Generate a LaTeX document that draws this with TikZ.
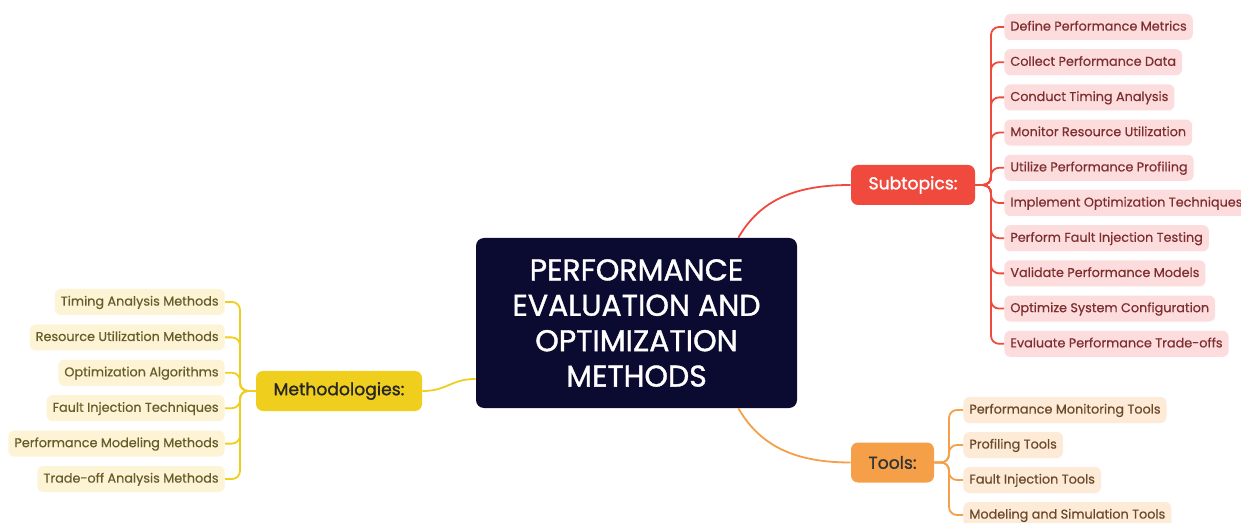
\documentclass[tikz,border=0pt]{standalone}
\usepackage{fontspec}
\setmainfont{Poppins}
\newfontfamily\medfont{Poppins}[FakeBold=1.2]
\newfontfamily\leaffont{Poppins}[FakeBold=0.5]
\usetikzlibrary{positioning}

\definecolor{navy}{HTML}{0B0A30}
\definecolor{subred}{HTML}{F04A3E}
\definecolor{subpink}{HTML}{FCDCDC}
\definecolor{subtext}{HTML}{7E2E2E}
\definecolor{methyel}{HTML}{F0CE1E}
\definecolor{methpale}{HTML}{FCF4D4}
\definecolor{methtext}{HTML}{665C2A}
\definecolor{toolor}{HTML}{F5A049}
\definecolor{toolpale}{HTML}{FDEBD8}
\definecolor{tooltext}{HTML}{6A4828}

\tikzset{
  root/.style={fill=navy, rounded corners=4pt, text=white, minimum width=160.5pt,
    minimum height=85pt, align=center, font=\medfont\fontsize{15pt}{17.7pt}\selectfont},
  branch/.style={rounded corners=3.5pt, minimum height=20pt, inner xsep=6pt,
    font=\medfont\fontsize{8.6pt}{10pt}\selectfont},
  leaf/.style={rounded corners=3pt, minimum height=13pt, inner xsep=3pt, inner ysep=0pt,
    text height=5pt, text depth=1.4pt, font=\leaffont\fontsize{6.4pt}{8pt}\selectfont},
  link/.style={line width=0.9pt, rounded corners=4pt}
}

\begin{document}
\begin{tikzpicture}[x=0.5pt, y=-0.5pt]
	\useasboundingbox[fill=white] (0,0) rectangle (1241,523);
	\node[root] (root) at (636.5,323) {PERFORMANCE\\EVALUATION AND\\OPTIMIZATION\\METHODS};
	\node[branch, fill=subred, text=white, minimum width=62pt] (sub) at (913,185) {Subtopics:};
	\node[branch, fill=methyel, text=black!85, minimum width=83pt] (meth) at (339,391) {Methodologies:};
	\node[branch, fill=toolor, text=black!80, minimum width=41.5pt] (tools) at (892.5,462.5) {Tools:};
	% subtopics
	\coordinate (sspine) at (991,185);
	\foreach \t [count=\i] in {Define Performance Metrics, Collect Performance Data,
	  Conduct Timing Analysis, Monitor Resource Utilization, Utilize Performance Profiling,
	  Implement Optimization Techniques, Perform Fault Injection Testing,
	  Validate Performance Models, Optimize System Configuration,
	  Evaluate Performance Trade-offs}
	{
	  \node[leaf, fill=subpink, text=subtext, anchor=west] (s\i) at (1004,{27+35.2*(\i-1)}) {\t};
	  \draw[link, subred] (sub.east) -- (sspine) |- (s\i.west);
	}
	% methodologies
	\coordinate (mspine) at (240,391);
	\foreach \t [count=\i] in {Timing Analysis Methods, Resource Utilization Methods,
	  Optimization Algorithms, Fault Injection Techniques, Performance Modeling Methods,
	  Trade-off Analysis Methods}
	{
	  \node[leaf, fill=methpale, text=methtext, anchor=east] (m\i) at (225,{302+35.4*(\i-1)}) {\t};
	  \draw[link, methyel] (meth.west) -- (mspine) |- (m\i.east);
	}
	% tools
	\coordinate (tspine) at (949,462.5);
	\foreach \t [count=\i] in {Performance Monitoring Tools, Profiling Tools,
	  Fault Injection Tools, Modeling and Simulation Tools}
	{
	  \node[leaf, fill=toolpale, text=tooltext, anchor=west] (t\i) at (963,{410+35*(\i-1)}) {\t};
	  \draw[link, toolor] (tools.east) -- (tspine) |- (t\i.west);
	}
	\draw[link, subred] ([xshift=-29.5pt]root.north east) .. controls +(22,-38) and +(-55,0) .. (sub.west);
	\draw[link, methyel] ([yshift=-28pt]root.west) .. controls +(-25,0) and +(25,0) .. (meth.east);
	\draw[link, toolor] ([xshift=-29.5pt]root.south east) .. controls +(22,38) and +(-55,0) .. (tools.west);
\end{tikzpicture}
\end{document}
